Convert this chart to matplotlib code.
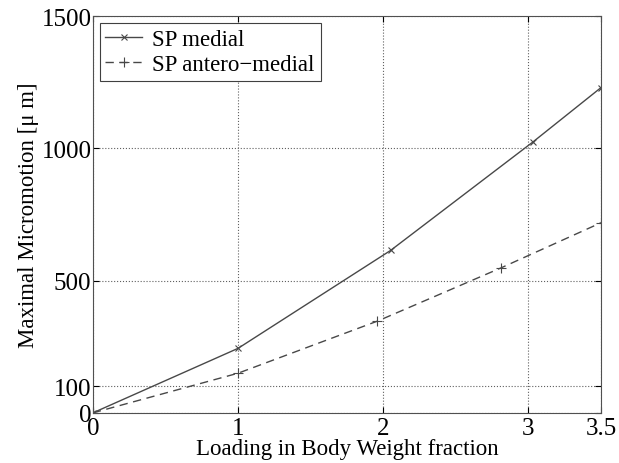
import matplotlib
matplotlib.use("Agg")
import matplotlib.pyplot as plt

# Datos
x_medial = [0, 1, 2.05, 3.03, 3.5]
y_medial = [0, 244, 614, 1024, 1230]

x_antero = [0, 1, 1.96, 2.81, 3.5]
y_antero = [0, 150, 347, 548, 719]

xticks = [0, 1, 2, 3, 3.5]
xticklabels = ["0", "1", "2", "3", "3.5"]
yticks = [0, 100, 500, 1000, 1500]

plt.rcParams['font.family'] = ['Liberation Serif', 'DejaVu Serif']

fig = plt.figure(figsize=(6.19, 4.64), dpi=100)
ax = fig.add_axes([0.150, 0.108, 0.821, 0.855])

ax.plot(x_medial, y_medial, color='#484848', linestyle='-', linewidth=1.0,
        marker='x', markersize=5, markeredgewidth=0.8, label='SP medial')
ax.plot(x_antero, y_antero, color='#484848', linestyle=(0, (6, 4)), linewidth=1.0,
        marker='+', markersize=7, markeredgewidth=0.8, label='SP antero\u2212medial')

ax.set_xlim(0, 3.5)
ax.set_ylim(0, 1500)
ax.set_xticks(xticks)
ax.set_xticklabels(xticklabels)
ax.set_yticks(yticks)
ax.tick_params(direction='in', labelsize=18, length=4, top=True, right=True)
ax.tick_params(axis='x', pad=3)
ax.tick_params(axis='y', pad=1)
ax.grid(True, linestyle=':', color='#606060', linewidth=0.8)

for s in ax.spines.values():
    s.set_color('#505050')

ax.set_xlabel("Loading in Body Weight fraction", fontsize=16.5, labelpad=-1)
ax.set_ylabel("Maximal Micromotion [\u03bc m]", fontsize=16.5, labelpad=2)

leg = ax.legend(loc='upper left', fontsize=16.5, fancybox=False, framealpha=1,
                edgecolor='#404040', handlelength=1.6, handletextpad=0.45,
                borderaxespad=0.3, borderpad=0.25, labelspacing=0.2)
leg.get_frame().set_linewidth(0.8)

fig.savefig("out.png", dpi=100)
